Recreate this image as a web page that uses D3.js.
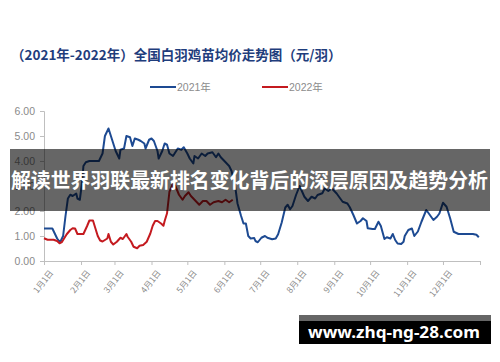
<!DOCTYPE html>
<html>
<head>
<meta charset="utf-8">
<script src="https://cdn.jsdelivr.net/npm/d3@7"></script>
<style>
  body { margin: 0; background: #fff; }
  svg { display: block; font-family: "Liberation Sans", "Noto Sans CJK SC", sans-serif; }
</style>
</head>
<body>
<div id="chart"></div>
<script>
// 2021 weekly-ish price readings (month-day, yuan per chick)
const dates2021 = ["01-01","01-04","01-08","01-10","01-12","01-14","01-15","01-17","01-19","01-21","01-23","01-25","01-28","01-29","01-31",
  "02-02","02-03","02-05","02-08","02-13","02-16","02-19","02-21","02-24","02-26","02-28",
  "03-02","03-05","03-06","03-09","03-11","03-14","03-16","03-18","03-21","03-23","03-26","03-27","03-30",
  "04-01","04-03","04-06","04-07","04-10","04-12","04-14","04-16","04-19","04-21","04-23","04-26","04-28",
  "05-01","05-03","05-06","05-07","05-10","05-13","05-16","05-18","05-22","05-25","05-27","05-29",
  "06-01","06-05","06-07","06-10","06-12","06-15","06-17","06-19","06-21","06-23","06-26","06-27","06-29",
  "07-02","07-05","07-07","07-11","07-14","07-16","07-19","07-22","07-24","07-26","07-28","07-31",
  "08-03","08-07","08-10","08-13","08-16","08-18","08-22","08-24","08-27","08-30",
  "09-03","09-06","09-08","09-12","09-14","09-17","09-20","09-23","09-25","09-28","09-29",
  "10-03","10-05","10-08","10-10","10-13","10-15","10-18","10-20","10-22","10-24","10-27","10-29","10-30",
  "11-02","11-05","11-07","11-10","11-13","11-17","11-19","11-23","11-26","11-28",
  "12-01","12-04","12-07","12-10","12-14","12-19","12-26","12-29","12-30","12-31"];
const price2021 = [1.30,1.30,1.30,1.10,0.90,0.78,0.80,1.00,1.80,2.50,2.65,2.60,2.70,2.50,2.45,
  3.20,3.80,3.95,4.00,4.00,4.00,4.30,5.00,5.30,5.00,4.70,
  4.40,4.10,4.45,4.50,5.00,4.95,4.60,4.90,4.85,4.80,4.70,4.50,4.85,
  4.90,4.80,4.40,4.10,4.40,4.70,4.65,4.30,4.20,4.35,4.50,4.45,4.55,
  4.30,4.10,3.90,4.20,4.10,4.30,4.20,4.30,4.35,4.15,4.30,4.15,
  4.00,3.80,3.60,3.00,2.30,1.80,1.50,1.50,1.00,0.90,0.92,0.80,0.75,
  0.93,1.00,0.93,0.87,0.90,1.07,1.54,2.14,2.25,2.07,2.20,2.64,
  3.00,2.57,2.40,2.57,2.50,2.64,2.71,2.90,2.80,2.90,
  2.70,2.50,2.37,2.30,2.15,1.84,1.50,1.60,1.71,1.60,1.31,
  1.28,1.28,1.57,1.40,0.88,0.95,0.90,1.08,0.84,0.70,0.68,0.77,1.00,
  1.24,1.30,1.00,1.18,1.57,2.04,1.91,1.64,1.77,1.90,
  2.33,2.17,1.71,1.17,1.08,1.08,1.08,1.05,1.00,0.95];

// 2022 readings up to early June
const dates2022 = ["01-01","01-04","01-09","01-12","01-14","01-16","01-20","01-23","01-25","01-27","01-29",
  "02-03","02-06","02-08","02-11","02-13","02-15","02-17","02-19","02-23","02-24","02-26","02-28",
  "03-03","03-06","03-08","03-11","03-12","03-15","03-17","03-20","03-22","03-25","03-28","03-31",
  "04-02","04-04","04-06","04-09","04-11","04-12","04-14","04-16","04-19","04-21","04-24","04-27","04-29",
  "05-02","05-04","05-07","05-11","05-14","05-17","05-20","05-23","05-27","05-30",
  "06-02","06-05","06-08"];
const price2022 = [0.91,0.85,0.85,0.80,0.71,0.76,1.07,1.24,1.31,1.30,1.08,
  1.08,1.39,1.62,1.62,1.31,1.00,0.82,0.78,0.90,1.08,0.77,0.66,
  0.77,0.93,0.88,1.08,0.97,0.77,0.57,0.51,0.61,0.64,0.77,1.10,
  1.41,1.60,1.60,1.50,1.41,1.60,1.91,2.77,3.10,3.00,2.65,2.45,2.60,
  2.75,2.60,2.45,2.25,2.40,2.40,2.25,2.35,2.40,2.35,
  2.45,2.35,2.45];

const monthLabels = ["1月1日","2月1日","3月1日","4月1日","5月1日","6月1日","7月1日","8月1日","9月1日","10月1日","11月1日","12月1日"];
const yTicks = [0, 1, 2, 3, 4, 5, 6];

const chartTitle = "（2021年-2022年）全国白羽鸡苗均价走势图（元/羽）";
const seriesNames = ["2021年", "2022年"];
const bannerText = "解读世界羽联最新排名变化背后的深层原因及趋势分析";
const watermarkText = "www.zhq-ng-28.com";

const width = 500, height = 362;
const colors = ["#1d4a92", "#c41a1f"];

// both years share one Jan-Dec axis, so month-day is placed on a common base year
const parseMD = d3.timeParse("%Y-%m-%d");
const toDate = md => parseMD("2021-" + md);

const svg = d3.select("#chart").append("svg")
  .attr("width", width)
  .attr("height", height);

svg.append("rect").attr("width", width).attr("height", height).attr("fill", "#fff");

const x = d3.scaleTime()
  .domain([toDate("01-01"), new Date(2022, 0, 1)])
  .range([44, 480]);

const y = d3.scaleLinear()
  .domain([0, 6])
  .range([261, 111]);

// title
svg.append("text")
  .attr("x", 11)
  .attr("y", 60)
  .attr("font-family", "'Noto Sans CJK SC', sans-serif")
  .attr("font-size", 13.5)
  .attr("font-weight", "bold")
  .attr("fill", "#1f3d7c")
  .text(chartTitle);

// legend
const legend = svg.append("g").attr("transform", "translate(150, 87)");
seriesNames.forEach((name, i) => {
  const row = legend.append("g").attr("transform", `translate(${i * 112}, 0)`);
  row.append("line")
    .attr("x1", 0).attr("x2", 26)
    .attr("stroke", colors[i])
    .attr("stroke-width", 2);
  row.append("text")
    .attr("x", 27)
    .attr("y", 4)
    .attr("font-size", 10.5)
    .attr("fill", "#8c8c8c")
    .text(name);
});

// y axis
const yAxis = svg.append("g")
  .attr("transform", "translate(44, 0)")
  .call(d3.axisLeft(y).tickValues(yTicks).tickFormat(d3.format(".2f")).tickSize(4).tickPadding(5));

// x axis
const xTicks = d3.timeMonth.range(toDate("01-01"), new Date(2022, 0, 2));
const xAxis = svg.append("g")
  .attr("transform", "translate(0, 261)")
  .call(d3.axisBottom(x).tickValues(xTicks).tickFormat((d, i) => monthLabels[i] || "").tickSize(4).tickPadding(4));

xAxis.selectAll("text")
  .attr("text-anchor", "end")
  .attr("font-family", "'Noto Sans CJK SC', sans-serif")
  .attr("font-size", 8.5)
  .attr("dy", 0)
  .attr("transform", d => "translate(3, 7) rotate(-52)");

[yAxis, xAxis].forEach(ax => {
  ax.select(".domain").attr("stroke", "#bfbfbf");
  ax.selectAll(".tick line").attr("stroke", "#bfbfbf");
  ax.selectAll("text").attr("fill", "#8a8a8a");
});
yAxis.selectAll("text").attr("font-size", 10.5);

// lines
const line = d3.line()
  .x(d => x(d.date))
  .y(d => y(d.value));

const series = [
  dates2021.map((d, i) => ({ date: toDate(d), value: price2021[i] })),
  dates2022.map((d, i) => ({ date: toDate(d), value: price2022[i] }))
];

svg.append("g")
  .selectAll("path")
  .data(series)
  .join("path")
  .attr("fill", "none")
  .attr("stroke", (d, i) => colors[i])
  .attr("stroke-width", 2)
  .attr("stroke-linejoin", "round")
  .attr("d", line);

// overlay banner
svg.append("rect")
  .attr("x", 10).attr("y", 149)
  .attr("width", 480).attr("height", 62)
  .attr("fill", "rgba(0,0,0,0.6)");

svg.append("text")
  .attr("x", 11)
  .attr("y", 188)
  .attr("font-family", "'Noto Sans CJK SC', sans-serif")
  .attr("font-size", 20.5)
  .attr("font-weight", "bold")
  .attr("fill", "#fff")
  .attr("textLength", 477)
  .attr("lengthAdjust", "spacingAndGlyphs")
  .text(bannerText);

// watermark
svg.append("rect")
  .attr("x", 299).attr("y", 315)
  .attr("width", 192).attr("height", 7)
  .attr("fill", "#666");
svg.append("rect")
  .attr("x", 299).attr("y", 321)
  .attr("width", 192).attr("height", 23)
  .attr("fill", "#000");
svg.append("text")
  .attr("x", 308)
  .attr("y", 338)
  .attr("font-family", "'Noto Sans', sans-serif")
  .attr("font-size", 16)
  .attr("font-weight", "bold")
  .attr("fill", "#fff")
  .attr("textLength", 172)
  .attr("lengthAdjust", "spacingAndGlyphs")
  .text(watermarkText);
</script>
</body>
</html>
